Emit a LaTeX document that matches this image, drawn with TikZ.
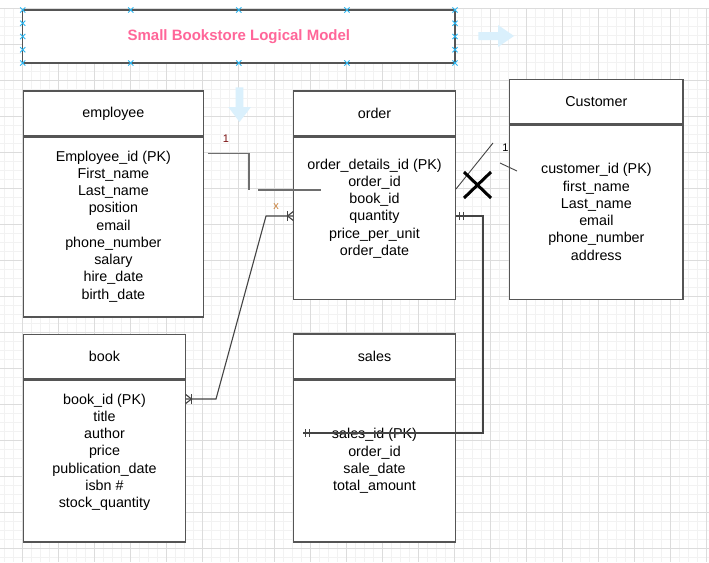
\documentclass[tikz,border=0pt]{standalone}
\usepackage{fontspec}
\setmainfont{Liberation Sans}
\definecolor{gridminor}{HTML}{F2F2F2}
\definecolor{gridmajor}{HTML}{DCDCDC}
\definecolor{boxgray}{HTML}{555555}
\definecolor{linegray}{HTML}{444444}
\definecolor{pinkt}{HTML}{FF6699}
\definecolor{markc}{HTML}{29B6F2}
\definecolor{hoverblue}{HTML}{DAF0FC}
\definecolor{darkred}{HTML}{7A1010}
\definecolor{xorange}{HTML}{C8803A}
\newcommand\attrfont{\fontsize{14.3}{17.25}\selectfont}
\newcommand\smallfont{\fontsize{11}{13}\selectfont}
\begin{document}
\begin{tikzpicture}[x=1pt,y=-1pt,
  entbox/.style={draw=boxgray, fill=white, line width=1.3pt, inner sep=0pt, rectangle, font=\attrfont},
  attrs/.style={align=center, inner sep=0pt, font=\attrfont},
  rel/.style={draw=linegray, line width=1.1pt},
  relg/.style={draw=boxgray!85, line width=1.6pt},
  lbl/.style={inner sep=0pt, font=\smallfont},
  bx/.pic={\draw[markc,line width=0.9pt] (-2.6,-2.6)--(2.6,2.6) (-2.6,2.6)--(2.6,-2.6);}
]
\useasboundingbox (0,0) rectangle (709,562);
\fill[white] (0,0) rectangle (709,562);
% grid
\foreach \i in {0,...,78} {\draw[gridminor,line width=0.8pt] ({4.3+9*\i},8) -- ({4.3+9*\i},562);}
\foreach \j in {0,...,61} {\draw[gridminor,line width=0.8pt] (0,{8.3+9*\j}) -- (709,{8.3+9*\j});}
\foreach \i in {0,...,19} {\draw[gridmajor,line width=0.8pt] ({22.3+36*\i},8) -- ({22.3+36*\i},562);}
\foreach \j in {0,...,15} {\draw[gridmajor,line width=0.8pt] (0,{8.3+36*\j}) -- (709,{8.3+36*\j});}

% hover arrows
\fill[hoverblue] (478.3,32) -- (498,32) -- (498,25) -- (514,36) -- (498,47) -- (498,40) -- (478.3,40) -- cycle;
\fill[hoverblue] (235.7,87.3) -- (243.3,87.3) -- (243.3,107) -- (251,107) -- (239.5,122) -- (228.3,107) -- (235.7,107) -- cycle;

% title
\node[draw=boxgray, fill=white, line width=1.3pt, minimum width=432.3pt, minimum height=53pt, inner sep=0pt,
  font=\fontsize{15}{18}\selectfont\bfseries, text=pinkt] (title) at (238.85,36.5) {Small Bookstore Logical Model};
\foreach \x in {22.7,130.8,238.85,346.9,455} {\pic at (\x,10) {bx}; \pic at (\x,63) {bx};}
\foreach \y in {23.25,36.5,49.75} {\pic at (22.7,\y) {bx}; \pic at (455,\y) {bx};}

% employee
\node[entbox, minimum width=180.2pt, minimum height=45pt] (emp) at (113.4,113.5) {employee};
\node[entbox, minimum width=180.2pt, minimum height=179.7pt, anchor=north] (empb) at (emp.south) {};
\node[attrs] (empt) at (113.4,226.3) {Employee\_id (PK)\\First\_name\\Last\_name\\position\\email\\phone\_number\\salary\\hire\_date\\birth\_date};

% order
\node[entbox, minimum width=162.4pt, minimum height=45pt] (ord) at (374.5,113.5) {order};
\node[entbox, minimum width=162.4pt, minimum height=162.3pt, anchor=north] (ordb) at (ord.south) {};
\node[attrs] (ordt) at (374.5,208.5) {order\_details\_id (PK)\\order\_id\\book\_id\\quantity\\price\_per\_unit\\order\_date};

% customer
\node[entbox, minimum width=173.3pt, minimum height=44.3pt] (cus) at (596.35,101.85) {Customer};
\node[entbox, minimum width=173.3pt, minimum height=174pt, anchor=north] (cusb) at (cus.south) {};
\node[attrs] (cust) at (596.35,211.8) {customer\_id (PK)\\first\_name\\Last\_name\\email\\phone\_number\\address};

% book
\node[entbox, minimum width=162.4pt, minimum height=44.7pt] (book) at (104.5,356.65) {book};
\node[entbox, minimum width=162.4pt, minimum height=161.7pt, anchor=north] (bookb) at (book.south) {};
\node[attrs] (bookt) at (104.5,452.2) {book\_id (PK)\\title\\author\\price\\publication\_date\\isbn \#\\stock\_quantity};

% sales
\node[entbox, minimum width=162.4pt, minimum height=44.7pt] (sal) at (374.5,356.35) {sales};
\node[entbox, minimum width=162.4pt, minimum height=162pt, anchor=north] (salb) at (sal.south) {};
\node[attrs] (salt) at (374.5,461) {sales\_id (PK)\\order\_id\\sale\_date\\total\_amount};

% connector employee - order
\coordinate (eo1) at (208.3,153.3);
\coordinate (eo2) at (258.3,189.7);
\coordinate (eo3) at (320.7,189.7);
\draw[relg] (eo1) -- (249,153.3) -- (249,189.7);
\draw[relg] (eo2) -- (eo3);
\node[lbl, text=darkred] (eo1l) at (226,139) {1};

% connector book - order
\coordinate (bo1) at (185.7,399);
\coordinate (bo2) at (293.3,216);
\draw[rel] (bo1) -- (216,399) -- (266,216) -- (bo2);
\draw[rel] (185.7,394.5) -- (191.5,399) -- (185.7,403.5);
\draw[rel] (191.5,394) -- (191.5,404);
\draw[rel] (293.3,211.5) -- (287.5,216) -- (293.3,220.5);
\draw[rel] (287.5,211) -- (287.5,221);
\node[lbl, text=xorange] (bol) at (276,207) {x};

% connector order - sales
\coordinate (os1) at (455.7,216);
\coordinate (os2) at (302.7,433);
\draw[rel] (os1) -- (483,216) -- (483,433) -- (os2);
\draw[rel] (459.8,212) -- (459.8,220) (463.2,212) -- (463.2,220);
\draw[rel] (305.8,429) -- (305.8,437) (309.2,429) -- (309.2,437);

% connector order - customer
\coordinate (oc1) at (456,189);
\coordinate (oc2) at (493,143);
\coordinate (oc3) at (500,163);
\coordinate (oc4) at (517,171);
\draw[rel, line width=0.9pt] (oc1) -- (oc2);
\draw[rel, line width=0.9pt] (oc3) -- (oc4);
\node[lbl, text=black] (ocl) at (505.5,148) {1};
\draw[black, line width=3pt] (464,172) -- (491,198) (464,198) -- (491,172);
\end{tikzpicture}
\end{document}
